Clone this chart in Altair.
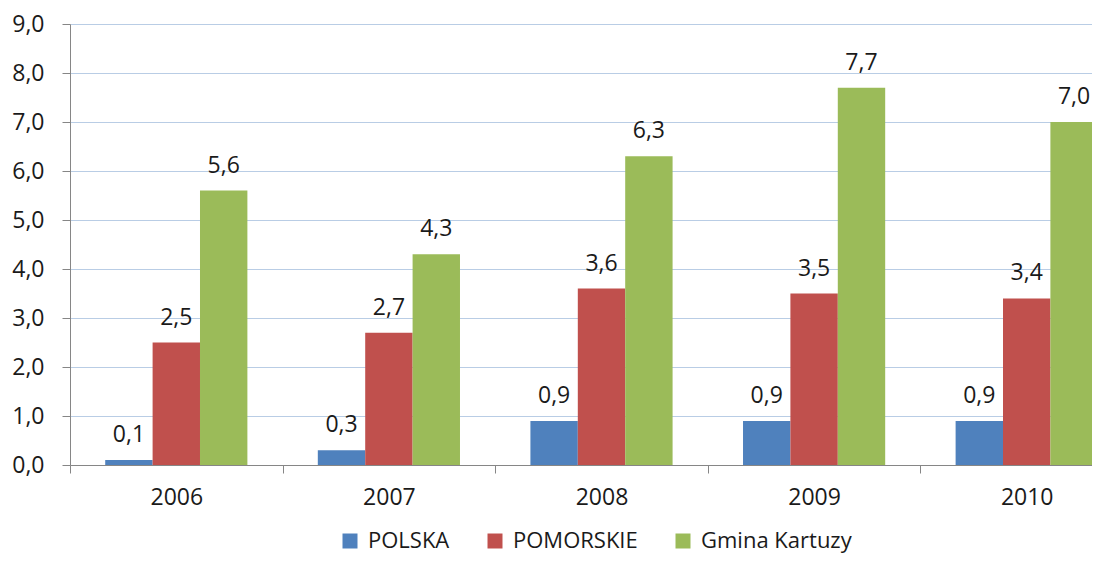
import altair as alt
import pandas as pd

years = ["2006", "2007", "2008", "2009", "2010"]
series = ["POLSKA", "POMORSKIE", "Gmina Kartuzy"]
polska = [0.1, 0.3, 0.9, 0.9, 0.9]
pomorskie = [2.5, 2.7, 3.6, 3.5, 3.4]
kartuzy = [5.6, 4.3, 6.3, 7.7, 7.0]
colors = ["#4F81BD", "#C0504D", "#9BBB59"]
y_ticks = [0, 1, 2, 3, 4, 5, 6, 7, 8, 9]

rows = []
for name, vals in zip(series, [polska, pomorskie, kartuzy]):
    for yr, v in zip(years, vals):
        rows.append({"year": yr, "series": name, "value": v})
df = pd.DataFrame(rows)

FONT = "Open Sans"

x = alt.X(
    "year:N",
    sort=years,
    scale=alt.Scale(range=[0, 1063], paddingInner=0, paddingOuter=0),
    axis=alt.Axis(
        title=None, labelAngle=0, tickBand="extent", tickSize=8, labelPadding=13,
        domainColor="#868686", tickColor="#868686", labelFontSize=23,
        labelColor="#1a1a1a", labelFont=FONT, grid=False,
    ),
)
xo = alt.XOffset("series:N", sort=series,
                 scale=alt.Scale(paddingInner=0, paddingOuter=0.743))
y = alt.Y(
    "value:Q",
    scale=alt.Scale(domain=[0, 9], nice=False),
    axis=alt.Axis(
        title=None, values=y_ticks,
        labelExpr="replace(format(datum.value, '.1f'), '.', ',')",
        tickSize=8, labelPadding=18, domainColor="#868686", tickColor="#868686",
        gridColor="#B9CDE5", grid=True, labelFontSize=23, labelFont=FONT,
        labelColor="#1a1a1a",
    ),
)
color = alt.Color(
    "series:N", sort=series,
    scale=alt.Scale(domain=series, range=colors),
    legend=alt.Legend(
        orient="none", legendX=269, legendY=506, direction="horizontal",
        title=None, symbolType="square", symbolSize=225, symbolStrokeWidth=0,
        symbolOpacity=1, labelFontSize=22, labelFont=FONT, labelColor="#1a1a1a",
        labelOffset=7, columnPadding=34, labelLimit=0,
    ),
)

bars = alt.Chart().mark_bar(clip=True, opacity=1).encode(x=x, xOffset=xo, y=y, color=color)
labels = alt.Chart().transform_calculate(
    label="replace(format(datum.value, '.1f'), '.', ',')"
).mark_text(
    dy=-18, baseline="alphabetic", fontSize=23, font=FONT, color="#1a1a1a"
).encode(x=x, xOffset=xo, y=y, text="label:N")

chart = alt.layer(bars, labels, data=df).properties(
    width=1022,
    height=441,
    autosize=alt.AutoSizeParams(type="none"),
    padding={"left": 62, "top": 16, "right": 0, "bottom": 90},
    background="white",
).configure_view(stroke=None)

chart.save("out.html", embed_options={"renderer": "svg", "actions": False})
